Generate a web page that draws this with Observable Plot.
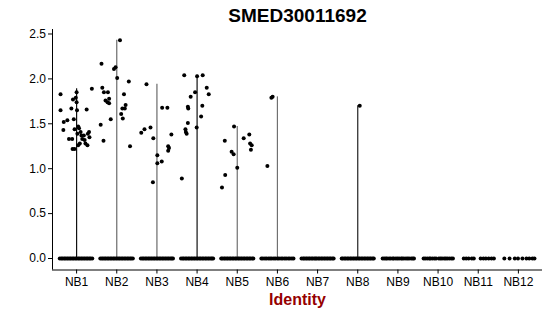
<!DOCTYPE html>
<html><head><meta charset="utf-8">
<script src="https://cdn.jsdelivr.net/npm/d3@7"></script>
<script src="https://cdn.jsdelivr.net/npm/@observablehq/plot@0.6"></script>
<style>html,body{margin:0;padding:0;background:#fff} svg{display:block}</style>
</head><body><div id="chart"></div>
<script>
// Categories and tick labels
const groups = ["NB1","NB2","NB3","NB4","NB5","NB6","NB7","NB8","NB9","NB10","NB11","NB12"];
const yTicks = [0, 0.5, 1, 1.5, 2, 2.5];
const titleText = "SMED30011692";
const xLabel = "Identity";

// Non-zero expression values per group: [jitter offset (category units), value]
const nb1 = [[-0.40,1.83],[-0.40,1.65],[-0.32,1.52],[-0.33,1.43],[-0.23,1.54],[-0.19,1.33],[-0.13,1.67],[-0.09,1.77],[-0.07,1.55],[-0.05,1.44],[-0.11,1.33],[-0.02,1.79],[0.00,1.85],[0.00,1.74],[0.01,1.65],[-0.05,1.22],[-0.10,1.22],[0.04,1.47],[0.06,1.45],[0.02,1.39],[0.10,1.41],[0.12,1.37],[0.14,1.33],[0.08,1.28],[0.04,1.26],[0.18,1.37],[0.20,1.32],[0.25,1.66],[0.28,1.39],[0.31,1.41],[0.27,1.26],[0.32,1.35],[0.38,1.89],[0.22,1.28]];
const nb2 = [[-0.38,2.17],[0.08,2.43],[-0.07,2.11],[-0.03,2.13],[0.01,2.01],[0.30,1.97],[-0.36,1.90],[-0.32,1.85],[-0.22,1.85],[0.18,1.83],[-0.19,1.78],[-0.28,1.76],[-0.23,1.74],[-0.19,1.73],[0.22,1.71],[0.14,1.67],[0.20,1.67],[0.11,1.61],[0.15,1.56],[-0.15,1.55],[-0.40,1.49],[-0.33,1.31],[0.33,1.25]];
const nb3 = [[-0.26,1.94],[-0.39,1.40],[-0.31,1.44],[-0.16,1.46],[-0.09,1.34],[0.13,1.68],[0.26,1.68],[0.36,1.38],[0.28,1.25],[0.30,1.23],[0.28,1.20],[0.01,1.15],[-0.10,0.85],[0.01,1.06],[0.12,1.08]];
const nb4 = [[-0.32,2.04],[0.00,2.03],[0.14,2.04],[0.24,1.90],[0.29,1.83],[-0.05,1.85],[-0.16,1.80],[-0.23,1.69],[-0.22,1.67],[0.13,1.70],[0.10,1.58],[-0.23,1.51],[-0.29,1.44],[-0.28,1.41],[-0.26,1.39],[-0.01,1.46],[-0.38,0.89]];
const nb5 = [[-0.08,1.47],[-0.31,1.31],[0.30,1.38],[0.16,1.34],[0.32,1.28],[0.36,1.26],[0.34,1.21],[-0.14,1.19],[-0.09,1.16],[0.00,1.01],[-0.30,0.93],[-0.38,0.79]];
const nb6 = [[-0.25,1.03],[-0.15,1.79],[-0.12,1.80]];
const nb7 = [];
const nb8 = [[0.05,1.70]];
const nb9 = [], nb10 = [], nb11 = [], nb12 = [];
const nonZero = [nb1, nb2, nb3, nb4, nb5, nb6, nb7, nb8, nb9, nb10, nb11, nb12];

// Jitter offsets of the cells with value 0, per group
const zeroJitter = [
  [-0.42,-0.38,-0.35,-0.31,-0.28,-0.24,-0.21,-0.17,-0.14,-0.10,-0.07,-0.03,0.00,0.04,0.07,0.11,0.14,0.18,0.21,0.25,0.28,0.32,0.35,0.39],
  [-0.41,-0.37,-0.34,-0.30,-0.27,-0.23,-0.20,-0.16,-0.13,-0.09,-0.06,-0.02,0.01,0.05,0.08,0.12,0.15,0.19,0.22,0.26,0.29,0.33,0.36,0.40],
  [-0.40,-0.36,-0.33,-0.29,-0.26,-0.22,-0.19,-0.15,-0.12,-0.08,-0.05,-0.01,0.02,0.06,0.09,0.13,0.16,0.20,0.23,0.27,0.30,0.34,0.37,0.40],
  [-0.40,-0.36,-0.33,-0.29,-0.26,-0.22,-0.19,-0.15,-0.12,-0.08,-0.05,-0.01,0.02,0.06,0.09,0.13,0.16,0.20,0.23,0.27,0.30,0.34,0.37,0.40],
  [-0.40,-0.37,-0.33,-0.30,-0.26,-0.23,-0.19,-0.16,-0.12,-0.09,-0.05,-0.02,0.02,0.05,0.09,0.12,0.16,0.19,0.23,0.26,0.30,0.33,0.37,0.40],
  [-0.40,-0.36,-0.31,-0.27,-0.22,-0.18,-0.14,-0.09,-0.05,0.00,0.04,0.09,0.13,0.18,0.22,0.27,0.31,0.36,0.40],
  [-0.40,-0.36,-0.33,-0.29,-0.26,-0.22,-0.19,-0.15,-0.12,-0.08,-0.05,-0.02,0.02,0.05,0.09,0.12,0.16,0.19,0.23,0.26,0.30,0.33,0.37,0.40],
  [-0.40,-0.37,-0.33,-0.30,-0.26,-0.23,-0.19,-0.16,-0.12,-0.09,-0.05,-0.02,0.02,0.05,0.09,0.12,0.16,0.19,0.23,0.26,0.30,0.33,0.37,0.40],
  [-0.38,-0.34,-0.30,-0.27,-0.22,-0.18,-0.13,-0.10,-0.05,-0.01,0.03,0.08,0.11,0.15,0.20,0.24,0.28,0.33,0.37,0.40],
  [-0.36,-0.32,-0.27,-0.22,-0.19,-0.14,-0.09,-0.05,0.02,0.06,0.10,0.15,0.19,0.23,0.28,0.33,0.37],
  [-0.36,-0.30,-0.24,-0.16,-0.11,0.06,0.13,0.19,0.26,0.33,0.39],
  [-0.35,-0.22,-0.09,-0.01,0.10,0.20,0.27,0.35,0.40]
];

// Styles (not data)
const violinStroke = ["#111","#6a6a6a","#6a6a6a","#111","#707070","#707070","#444","#222","#444","#444","#444","#444"];

// Build tables
const points = groups.flatMap((g, i) => [
  ...zeroJitter[i].map(o => ({g, x: i + o, v: 0})),
  ...nonZero[i].map(([o, v]) => ({g, x: i + o, v}))
]);
const violins = groups.map((g, i) => ({i, max: d3.max(nonZero[i], d => d[1]) ?? 0})).filter(d => d.max > 0);

const chart = Plot.plot({
  width: 550, height: 316,
  marginLeft: 52, marginRight: 8, marginTop: 29, marginBottom: 46.5,
  style: {fontFamily: "'Liberation Sans', Arial, Helvetica, sans-serif", fontSize: "12px", color: "black", background: "white"},
  x: {domain: [-0.6, groups.length - 0.4], axis: null},
  y: {domain: [-0.128, 2.55], axis: null},
  color: {domain: d3.range(groups.length), range: violinStroke},
  marks: [
    Plot.axisY(yTicks, {tickSize: 4, tickPadding: 2.5, tickFormat: d3.format(".1f"), fontSize: 12, label: null}),
    Plot.axisX(d3.range(groups.length), {tickSize: 4, tickPadding: 3.5, tickFormat: i => groups[i], fontSize: 12, label: null}),
    Plot.ruleX([-0.6], {stroke: "black", strokeWidth: 1}),
    Plot.ruleY([-0.128], {stroke: "black", strokeWidth: 1}),
    Plot.ruleX(violins, {x: "i", y1: 0, y2: "max", stroke: "i", strokeWidth: 1.2}),
    Plot.dot(points, {x: "x", y: "v", r: 2, fill: "black", stroke: "none"}),
    Plot.text([titleText], {frameAnchor: "top", lineAnchor: "middle", dy: -14, fontSize: 19, fontWeight: "bold", fill: "black"}),
    Plot.text([xLabel], {frameAnchor: "bottom", lineAnchor: "middle", dy: 30, fontSize: 16, fontWeight: "bold", fill: "#960000"})
  ]
});
document.getElementById("chart").appendChild(chart);
</script>
</body></html>
